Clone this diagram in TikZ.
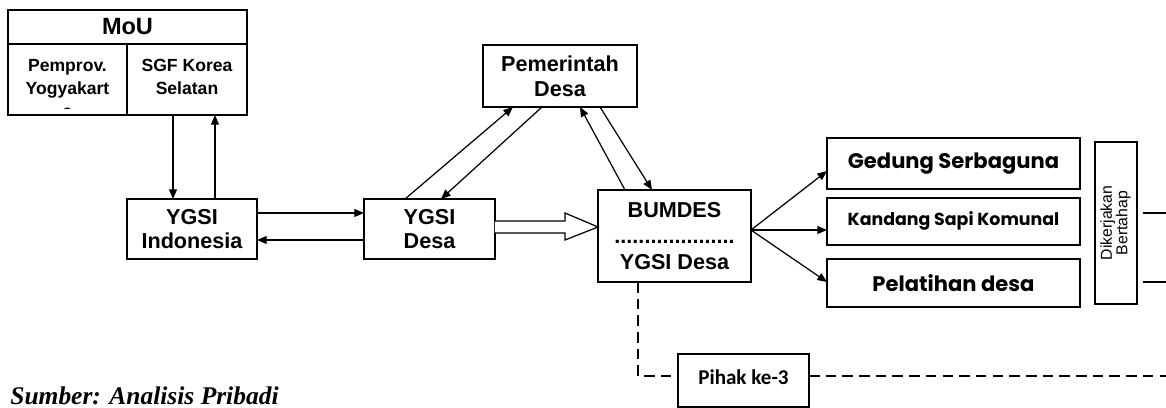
\documentclass[tikz,border=0pt]{standalone}
\usepackage{fontspec}
\setmainfont{Liberation Sans}
\newfontfamily\gothfont{Poppins}
\newfontfamily\calfont{Carlito}
\newfontfamily\serfont{Liberation Serif}
\usetikzlibrary{calc}
\usetikzlibrary{arrows.meta}
\usetikzlibrary{positioning}

\tikzset{
  box/.style={draw, line width=0.75pt, inner sep=0pt, outer sep=0pt, align=center,
    font=\fontsize{12.3}{14}\selectfont\bfseries},
  goth/.style={font=\gothfont\fontsize{12}{13}\selectfont\bfseries},
  txt/.style={inner sep=0pt, align=center, font=\fontsize{10}{13}\selectfont\bfseries},
  arr/.style={line width=0.7pt, -{Triangle[length=5.5pt,width=4.5pt]}},
  lnk/.style={line width=0.7pt, dash pattern=on 6pt off 3.5pt},
}

\begin{document}
\begin{tikzpicture}[x=0.02cm, y=-0.02cm]
  \useasboundingbox (0,0) rectangle (1166,408);

  % MoU block
  \node[box, minimum width=4.78cm, minimum height=0.68cm,
        font=\fontsize{13.4}{14}\selectfont\bfseries] (mou) at (127.5,27) {MoU};
  \node[box, minimum width=2.38cm, minimum height=1.42cm] (pemprov) at (67.5,79.5) {};
  \node[box, minimum width=2.40cm, minimum height=1.42cm] (sgf) at (187,79.5) {};
  \begin{scope}
    \clip ($(pemprov.north west)$) rectangle ($(pemprov.south east)+(0,-6)$); % cut last line
    \node[txt, anchor=north] (pemprovtxt) at ([yshift=-0.3cm]pemprov.north) {Pemprov.\\Yogyakart\\a};
  \end{scope}
  \node[txt, anchor=north] (sgftxt) at ([yshift=-0.3cm]sgf.north) {SGF Korea\\Selatan};

  % main boxes
  \node[box, minimum width=2.60cm, minimum height=1.20cm] (ygsiind) at (192,229) {YGSI\\Indonesia};
  \node[box, minimum width=2.62cm, minimum height=1.20cm] (ygsidesa) at (429.5,229) {YGSI\\Desa};
  \node[box, minimum width=3.08cm, minimum height=1.24cm] (pemdes) at (560,76) {Pemerintah\\Desa};
  \node[box, minimum width=3.06cm, minimum height=1.84cm,
        font=\fontsize{12.3}{15}\selectfont\bfseries] (bumdes) at (674.5,236)
        {BUMDES\\....................\\YGSI Desa};

  % programs
  \node[box, goth, minimum width=5.06cm, minimum height=1.02cm] (gedung) at (953.5,163.5) {Gedung Serbaguna};
  \node[box, goth, minimum width=5.06cm, minimum height=0.94cm,
        font=\gothfont\fontsize{9.9}{12}\selectfont\bfseries] (kandang) at (953.5,221.5)
        {\raisebox{3pt}{Kandang Sapi Komunal}};
  \node[box, goth, minimum width=5.06cm, minimum height=0.96cm] (pelatihan) at (953.5,283) {Pelatihan desa};
  \node[box, minimum width=0.84cm, minimum height=3.24cm,
        font=\fontsize{9}{8}\selectfont] (bertahap) at (1116,223)
        {\rotatebox{90}{\begin{tabular}{@{}c@{}}Dikerjakan\\Bertahap\end{tabular}}};
  \node[box, minimum width=2.62cm, minimum height=1.06cm,
        font=\calfont\fontsize{12}{13}\selectfont\bfseries] (pihak) at (743.5,380.5)
        {\raisebox{4pt}{Pihak ke-3}};

  \node[anchor=base west, inner sep=0pt,
        font=\serfont\fontsize{14.5}{15}\selectfont\bfseries\itshape] (sumber) at (10,404)
        {Sumber: Analisis Pribadi};

  % MoU <-> YGSI Indonesia
  \draw[arr] ([xshift=-0.28cm]sgf.south) -- ([xshift=-0.28cm]sgf.south |- ygsiind.north);
  \draw[arr] ([xshift=0.56cm]sgf.south |- ygsiind.north) -- ([xshift=0.56cm]sgf.south);

  % YGSI Indonesia <-> YGSI Desa
  \draw[arr] ([yshift=0.32cm]ygsiind.east) -- ([yshift=0.32cm]ygsiind.east -| ygsidesa.west);
  \draw[arr] ([yshift=-0.22cm]ygsidesa.west) -- ([yshift=-0.22cm]ygsidesa.west -| ygsiind.east);

  % YGSI Desa <-> Pemerintah Desa
  \draw[arr] ([xshift=-0.49cm]ygsidesa.north) -- ([xshift=-0.94cm]pemdes.south);
  \draw[arr] ([xshift=-0.36cm]pemdes.south) -- ([xshift=0.23cm]ygsidesa.north);

  % BUMDES <-> Pemerintah Desa
  \draw[arr] ([xshift=-0.99cm]bumdes.north) -- ([xshift=0.4cm]pemdes.south);
  \draw[arr] ([xshift=0.8cm]pemdes.south) -- ([xshift=-0.45cm]bumdes.north);

  % hollow arrow YGSI Desa -> BUMDES
  \draw[line width=0.7pt, fill=white] ($(ygsidesa.east)+(0,-8)$) -- ++(70,0) -- ++(0,-8)
    -- ($(bumdes.west)+(0,-9)$) -- ($(ygsidesa.east)+(70,11)$) -- ++(0,-7)
    -- ($(ygsidesa.east)+(0,4)$);

  % BUMDES -> programs
  \coordinate (fan) at ($(bumdes.east)+(0,-6)$);
  \draw[arr] (fan) -- ($(gedung.west)+(0,7.5)$);
  \draw[arr] (fan) -- (fan -| kandang.west);
  \draw[arr] (fan) -- ($(pelatihan.west)+(0,-1)$);

  % lines leaving the page
  \coordinate (exitA) at (1166,213);
  \coordinate (exitB) at (1166,282);
  \coordinate (exitC) at (1166,376);
  \draw[line width=0.7pt] ($(bertahap.east)+(6,-10)$) -- (exitA);
  \draw[line width=0.7pt] ($(bertahap.east)+(6,59)$) -- (exitB);

  % third party
  \draw[lnk] ($(bumdes.south)+(-36.5,0)$) |- ($(pihak.west)+(0,-4.5)$);
  \draw[lnk] ($(pihak.east)+(0,-4.5)$) -- (exitC);
\end{tikzpicture}
\end{document}
